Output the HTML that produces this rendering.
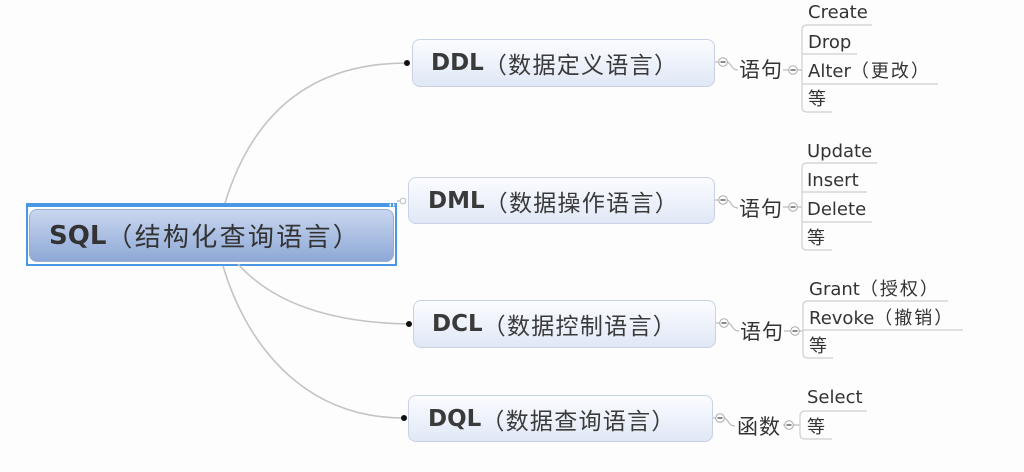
<!DOCTYPE html>
<html><head><meta charset="utf-8"><style>
*{margin:0;padding:0;box-sizing:border-box}
body{width:1024px;height:472px;background:#fdfdfd;position:relative;overflow:hidden;font-family:"DejaVu Sans","Noto Sans CJK SC",sans-serif;color:#333}
svg{position:absolute;left:0;top:0}
.sel{position:absolute;left:26px;top:203px;width:371px;height:63px;border:2px solid #4a97e4;border-top-width:4px;background:#fff}
.root{position:absolute;left:29px;top:209px;width:365px;height:53px;border-radius:8px;background:linear-gradient(#c9d7ef,#8ea8d6);border:1px solid #98add4;display:flex;align-items:center;padding-left:19px;font-size:26px;letter-spacing:2.3px;white-space:nowrap;color:#333}
.root b,.mn b{font-weight:bold;letter-spacing:0}
.mn{position:absolute;border-radius:8px;background:linear-gradient(#fbfcff,#e0e8f6);border:1px solid #c8d2e4;display:flex;align-items:center;padding-left:18px;font-size:23px;letter-spacing:1.3px;white-space:nowrap;color:#3a3a3a}
.t{position:absolute;white-space:nowrap;line-height:24px;height:24px}
.lf{font-size:18px;color:#333}
.lf span{letter-spacing:2px}
.yj{font-size:21px;letter-spacing:1px;color:#333}
</style></head><body>
<div class="sel"></div>
<div class="root"><b>SQL</b>（结构化查询语言）</div>
<svg width="1024" height="472" viewBox="0 0 1024 472">
<g fill="none" stroke="#c4c4c4" stroke-width="1.6">
<path d="M225,203 Q268,63 407,63"/>
<path d="M238,264 Q290,322 409,324"/>
<path d="M223,266 C245,340 300,418 404,418"/>
<path d="M397,201 L400,201"/>
</g>
<g fill="#111"><circle cx="407" cy="63" r="3"/><circle cx="409" cy="324" r="3"/><circle cx="404" cy="418" r="3"/></g>
<circle cx="403" cy="201" r="2.8" fill="#fff" stroke="#bbb" stroke-width="1"/>
<g fill="#fff"><path d="M391,203 l-2,2 l2,2z M393,203 l2,2 l-2,2z"/></g>
<g fill="none" stroke="#bbb" stroke-width="1.2">
<path d="M715,62 H719 M727,62 C731,62 731,70 738,70"/>
<path d="M783,70 H789 M797,70 H802"/>
<path d="M715,200 H719 M727,200 C731,200 731,208 738,208"/>
<path d="M783,207 H789 M797,207 H802"/>
<path d="M716,323 H720 M728,323 C732,323 732,331 739,331"/>
<path d="M784,331 H791 M799,331 H803"/>
<path d="M713,418 H716 M724,418 C728,418 728,426 735,426"/>
<path d="M783,425 H785 M793,425 H800"/>
</g>
<g fill="#fff" stroke="#aaa" stroke-width="1">
<circle cx="723" cy="62" r="4.3"/><circle cx="793" cy="70" r="4.3"/>
<circle cx="723" cy="200" r="4.3"/><circle cx="793" cy="207" r="4.3"/>
<circle cx="724" cy="323" r="4.3"/><circle cx="795" cy="331" r="4.3"/>
<circle cx="720" cy="418" r="4.3"/><circle cx="789" cy="425" r="4.3"/>
</g>
<g stroke="#444" stroke-width="1.2">
<path d="M720.5,62 h5 M790.5,70 h5 M720.5,200 h5 M790.5,207 h5 M721.5,323 h5 M792.5,331 h5 M717.5,418 h5 M786.5,425 h5"/>
</g>
<g fill="none" stroke="#cfcfcf" stroke-width="1.2">
<path d="M872,25 H807 Q802,25 802,30 V107 Q802,112 807,112 H832"/>
<path d="M802,54 H857 M802,84 H938"/>
<path d="M877,163 H807 Q802,163 802,168 V245 Q802,250 807,250 H832"/>
<path d="M802,192 H867 M802,222 H872"/>
<path d="M948,301 H808 Q803,301 803,306 V353 Q803,358 808,358 H833"/>
<path d="M803,330 H963"/>
<path d="M867,411 H805 Q800,411 800,416 V434 Q800,439 805,439 H832"/>
</g>
</svg>
<div class="mn" style="left:412px;top:39px;width:303px;height:48px"><b>DDL</b>（数据定义语言）</div>
<div class="mn" style="left:408px;top:177px;width:307px;height:47px;padding-left:19px"><b>DML</b>（数据操作语言）</div>
<div class="mn" style="left:413px;top:300px;width:303px;height:48px"><b>DCL</b>（数据控制语言）</div>
<div class="mn" style="left:408px;top:395px;width:305px;height:47px;padding-left:19px"><b>DQL</b>（数据查询语言）</div>

<div class="t yj" style="left:739px;top:58px">语句</div>
<div class="t yj" style="left:739px;top:197px">语句</div>
<div class="t yj" style="left:740px;top:320px">语句</div>
<div class="t yj" style="left:737px;top:415px">函数</div>

<div class="t lf" style="left:808px;top:1px">Create</div>
<div class="t lf" style="left:808px;top:31px">Drop</div>
<div class="t lf" style="left:808px;top:60px">Alter<span>（更改）</span></div>
<div class="t lf" style="left:808px;top:88px"><span>等</span></div>

<div class="t lf" style="left:807px;top:140px">Update</div>
<div class="t lf" style="left:807px;top:169px">Insert</div>
<div class="t lf" style="left:807px;top:198px">Delete</div>
<div class="t lf" style="left:807px;top:227px"><span>等</span></div>

<div class="t lf" style="left:809px;top:278px">Grant<span>（授权）</span></div>
<div class="t lf" style="left:809px;top:307px">Revoke<span>（撤销）</span></div>
<div class="t lf" style="left:809px;top:335px"><span>等</span></div>

<div class="t lf" style="left:807px;top:386px">Select</div>
<div class="t lf" style="left:807px;top:416px"><span>等</span></div>
</body></html>
